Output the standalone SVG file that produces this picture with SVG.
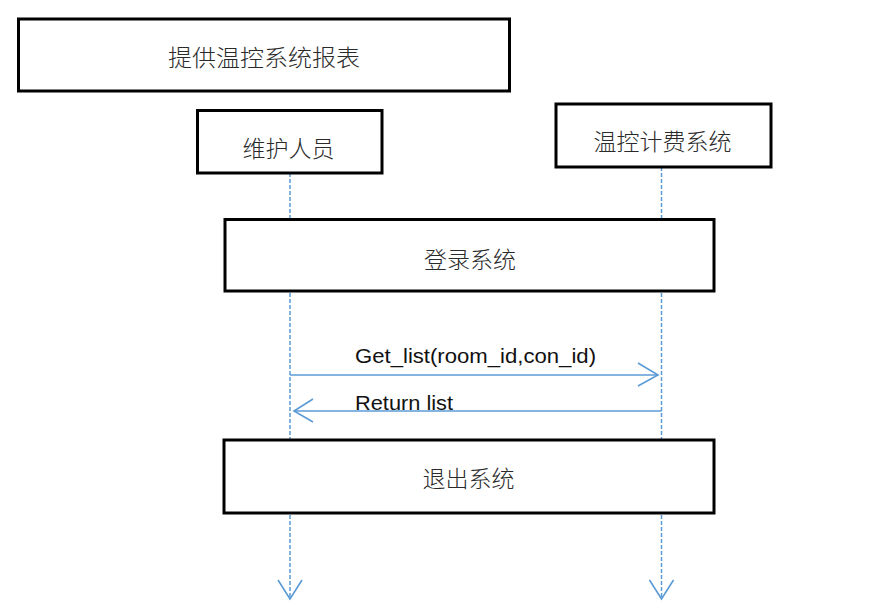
<svg xmlns="http://www.w3.org/2000/svg" width="880" height="613" viewBox="0 0 880 613">
<style>
.box{fill:#fff;stroke:#000;stroke-width:3}
.cn{font-family:"Noto Sans CJK SC","Liberation Sans",sans-serif;font-weight:300;font-size:23px;fill:#2a2a2a;text-anchor:middle;dominant-baseline:central}
.en{font-family:"Liberation Sans","Noto Sans",sans-serif;font-size:21px;fill:#111}
.life{stroke:#5B9BD5;stroke-width:1.5;stroke-dasharray:4 2;fill:none}
.msg{stroke:#5B9BD5;stroke-width:1.6;fill:none}
</style>
<rect width="880" height="613" fill="#fff"/>
<g id="connectors">
<line class="life" x1="290" y1="173" x2="290" y2="598"/>
<line class="life" x1="661.5" y1="167" x2="661.5" y2="598"/>
<polyline class="msg" points="278,580 290,599 302,580"/>
<polyline class="msg" points="649.5,580 661.5,599 673.5,580"/>
<line class="msg" x1="290" y1="375" x2="658" y2="375"/>
<polyline class="msg" points="638,363 658,375 638,386"/>
<line class="msg" x1="661.5" y1="411" x2="294" y2="411"/>
<polyline class="msg" points="313,399 294,411 313,422"/>
<text class="en" x="355" y="363" textLength="241" lengthAdjust="spacingAndGlyphs">Get_list(room_id,con_id)</text>
<text class="en" x="355" y="410" textLength="98" lengthAdjust="spacingAndGlyphs">Return list</text>
</g>
<g id="title">
<rect class="box" x="18.5" y="19" width="491" height="72"/>
<text class="cn" x="264" y="55.5" textLength="192" lengthAdjust="spacingAndGlyphs">提供温控系统报表</text>
</g>
<g id="actor-maintainer">
<rect class="box" x="197.5" y="110.5" width="184.5" height="62.5"/>
<text class="cn" x="288.5" y="146.5">维护人员</text>
</g>
<g id="actor-system">
<rect class="box" x="556" y="104" width="215" height="63"/>
<text class="cn" x="662.5" y="140">温控计费系统</text>
</g>
<g id="login">
<rect class="box" x="225" y="219.5" width="489" height="71.5"/>
<text class="cn" x="470" y="258">登录系统</text>
</g>
<g id="logout">
<rect class="box" x="224" y="440" width="490" height="73"/>
<text class="cn" x="468.5" y="477">退出系统</text>
</g>
</svg>
